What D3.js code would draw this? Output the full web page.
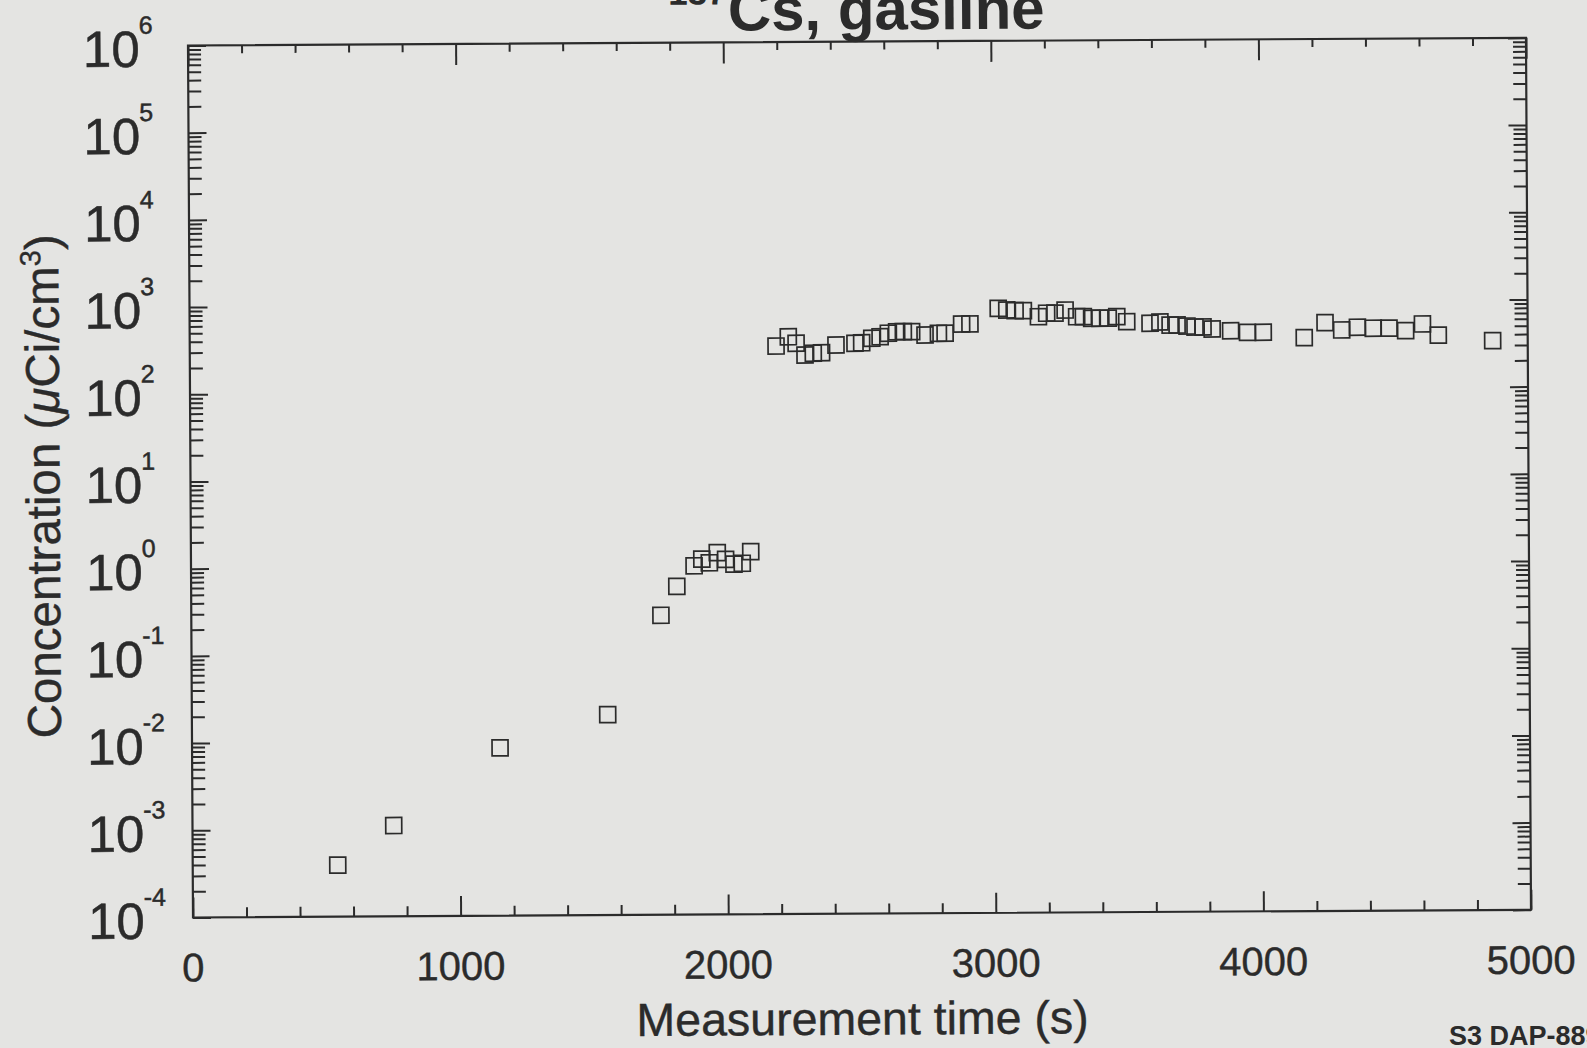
<!DOCTYPE html>
<html><head><meta charset="utf-8">
<script src="https://cdn.jsdelivr.net/npm/d3@7"></script>
<style>html,body{margin:0;padding:0;background:#e4e4e2;overflow:hidden}svg{display:block}</style>
</head><body>
<svg id="chart" width="1587" height="1048"></svg>
<script>
// ---- data ----
const times = [542, 752, 1151, 1554, 1755, 1815, 1880, 1909, 1937, 1967, 1998, 2029, 2060, 2092,
  2191, 2237, 2266, 2299, 2330, 2361, 2415, 2486, 2511, 2549, 2580, 2611, 2642, 2667, 2698,
  2748, 2798, 2823, 2885, 2916, 3022, 3054, 3085, 3116, 3172, 3203, 3234, 3272, 3315, 3340,
  3371, 3402, 3433, 3465, 3502, 3589, 3626, 3664, 3690, 3727, 3757, 3787, 3821, 3890, 3953,
  4012, 4165, 4243, 4305, 4364, 4423, 4482, 4544, 4607, 4666, 4869];
const concentrations = [3.9e-4, 1.1e-3, 8.4e-3, 0.0199, 0.272, 0.583, 1.0, 1.19, 1.08, 1.41, 1.18, 1.04, 1.06, 1.44,
  327, 417, 351, 257, 269, 272, 333, 348, 352, 396, 412, 451, 469, 469, 469,
  428, 447, 447, 569, 569, 855, 818, 802, 802, 682, 747, 747, 810, 678, 678,
  649, 649, 649, 675, 590, 564, 582, 536, 536, 521, 507, 507, 480, 457, 437,
  437, 377, 558, 459, 492, 478, 478, 446, 531, 395, 338];
const xTickLabels = [0, 1000, 2000, 3000, 4000, 5000];
const yExponents = [-4, -3, -2, -1, 0, 1, 2, 3, 4, 5, 6];
const titleSup = "137";
const titleMain = "Cs, gasline";
const xTitle = "Measurement time (s)";
const stamp = "S3 DAP-889";

// ---- layout ----
const W = 1338, H = 872;
const ink = "#2b2b2b";
const svg = d3.select("#chart");
const g = svg.append("g").attr("transform", "translate(188,45.5) rotate(-0.33)");

const x = d3.scaleLinear().domain([0, 5000]).range([0, W]);
const y = d3.scaleLog().domain([1e-4, 1e6]).range([H, 0]);

const majorX = d3.range(0, 5001, 1000);
const minorX = d3.range(0, 5001, 200).filter(v => v % 1000 !== 0);
const majorY = yExponents.map(e => Math.pow(10, e));
const minorY = [];
for (let e = -4; e < 6; e++) for (let k = 2; k <= 9; k++) minorY.push(k * Math.pow(10, e));

function axisStyle(sel) {
  sel.select(".domain").remove();
  sel.selectAll("line").attr("stroke", ink).attr("stroke-width", 2);
  sel.selectAll("text").remove();
}
// bottom
g.append("g").attr("transform", `translate(0,${H})`).call(d3.axisBottom(x).tickValues(minorX).tickSize(-10)).call(axisStyle);
g.append("g").attr("transform", `translate(0,${H})`).call(d3.axisBottom(x).tickValues(majorX).tickSize(-20)).call(axisStyle);
// top
g.append("g").call(d3.axisTop(x).tickValues(minorX).tickSize(-8)).call(axisStyle);
g.append("g").call(d3.axisTop(x).tickValues(majorX).tickSize(-21)).call(axisStyle);
// left
g.append("g").call(d3.axisLeft(y).tickValues(minorY).tickSize(-13)).call(axisStyle);
g.append("g").call(d3.axisLeft(y).tickValues(majorY).tickSize(-18)).call(axisStyle);
// right
g.append("g").attr("transform", `translate(${W},0)`).call(d3.axisRight(y).tickValues(minorY).tickSize(-13)).call(axisStyle);
g.append("g").attr("transform", `translate(${W},0)`).call(d3.axisRight(y).tickValues(majorY).tickSize(-18)).call(axisStyle);

// frame
g.append("rect").attr("x", x(0)).attr("y", y(1e6)).attr("width", x(5000) - x(0)).attr("height", y(1e-4) - y(1e6))
  .attr("fill", "none").attr("stroke", ink).attr("stroke-width", 2.2);

const font = "'Liberation Sans', Arial, Helvetica, sans-serif";

// y tick labels 10^n
const yl = g.append("g").attr("font-family", font).attr("fill", ink).attr("stroke", ink).attr("stroke-width", 0.5);
yExponents.forEach(e => {
  const t = yl.append("text").attr("x", -105).attr("y", y(Math.pow(10, e)) + 21).attr("font-size", 51);
  t.append("tspan").text("10");
  t.append("tspan").attr("dx", -1).attr("dy", -33).attr("font-size", 25).text(String(e));
});

// x tick labels
g.append("g").attr("font-family", font).attr("fill", ink).attr("stroke", ink).attr("stroke-width", 0.4)
  .selectAll("text").data(xTickLabels).join("text")
  .attr("x", d => x(d)).attr("y", H + 64).attr("text-anchor", "middle").attr("font-size", 40).text(d => d);

// axis titles
g.append("text").attr("x", x(2500)).attr("y", H + 121).attr("text-anchor", "middle")
  .attr("font-family", font).attr("font-size", 46.5).attr("fill", ink).attr("stroke", ink).attr("stroke-width", 0.4).text(xTitle);

const yt = g.append("text").attr("transform", `translate(-131,${(y(1e-4) + y(1e6)) / 2 + 4}) rotate(-90)`)
  .attr("text-anchor", "middle").attr("font-family", font).attr("font-size", 47.5).attr("fill", ink)
  .attr("stroke", ink).attr("stroke-width", 0.4);
yt.append("tspan").text("Concentration (");
yt.append("tspan").attr("font-style", "italic").text("μ");
yt.append("tspan").text("Ci/cm");
yt.append("tspan").attr("dy", -18).attr("font-size", 29).text("3");
yt.append("tspan").attr("dy", 18).text(")");

// title (cut by the top edge, as in the scan)
g.append("text").attr("x", 539).attr("y", -38).attr("text-anchor", "end").attr("font-family", font)
  .attr("font-weight", "bold").attr("font-size", 35).attr("fill", ink).text(titleSup);
g.append("text").attr("x", 540).attr("y", -12).attr("font-family", font)
  .attr("font-weight", "bold").attr("font-size", 60).attr("fill", ink).text(titleMain);

// data markers: open squares
const pts = times.map((t, i) => ({ t, c: concentrations[i] }));
const s = 16;
g.append("g").selectAll("rect").data(pts).join("rect")
  .attr("x", d => x(d.t) - s / 2).attr("y", d => y(d.c) - s / 2)
  .attr("width", s).attr("height", s)
  .attr("fill", "none").attr("stroke", ink).attr("stroke-width", 1.7);

// stamp
svg.append("text").attr("x", 1449).attr("y", 1045).attr("font-family", font).attr("font-weight", "bold")
  .attr("font-size", 27).attr("fill", ink).text(stamp);
</script>
</body></html>
